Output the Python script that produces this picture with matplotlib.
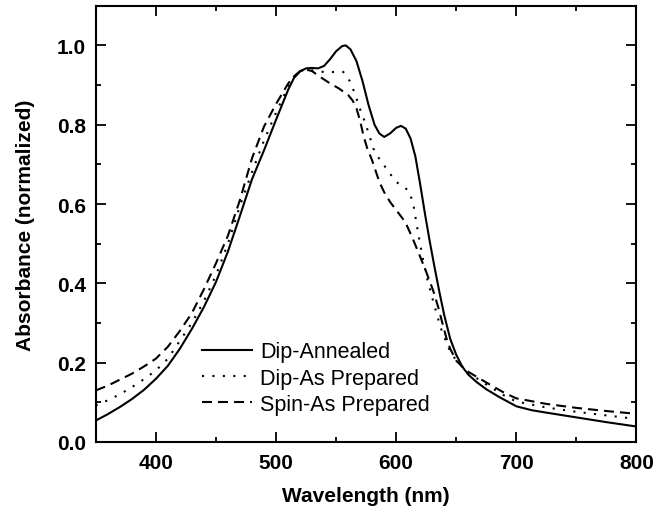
import numpy as np
import matplotlib
matplotlib.use("Agg")
import matplotlib.pyplot as plt
from matplotlib.ticker import MultipleLocator, FormatStrFormatter

plt.rcParams['font.family'] = ['Liberation Sans', 'DejaVu Sans']

# Dip-Annealed (solid)
wl_ann = [350, 360, 370, 380, 390, 400, 410, 420, 430, 440, 450, 460, 470, 480, 490,
          500, 510, 515, 520, 525, 530, 535, 540, 545, 550, 555, 558, 562, 567, 572,
          577, 582, 586, 590, 595, 600, 604, 608, 612, 616, 620, 624, 628, 632, 636,
          640, 645, 650, 655, 660, 667, 675, 686, 700, 713, 725, 750, 775, 800]
abs_ann = [0.054, 0.070, 0.088, 0.108, 0.131, 0.159, 0.192, 0.235, 0.285, 0.340, 0.403,
           0.48, 0.57, 0.662, 0.735, 0.812, 0.887, 0.918, 0.934, 0.942, 0.943, 0.942,
           0.948, 0.965, 0.985, 0.998, 1.0, 0.99, 0.96, 0.91, 0.85, 0.80, 0.778, 0.769,
           0.778, 0.792, 0.797, 0.790, 0.765, 0.72, 0.65, 0.575, 0.505, 0.44, 0.378,
           0.32, 0.26, 0.22, 0.19, 0.17, 0.151, 0.133, 0.113, 0.09, 0.08, 0.074, 0.062,
           0.05, 0.039]

# Dip-As Prepared (dotted)
wl_dip = [350, 360, 370, 380, 390, 400, 410, 420, 430, 440, 450, 460, 470, 480, 490,
          500, 510, 515, 520, 525, 530, 535, 545, 552, 556, 560, 563, 567, 571, 574,
          578, 581, 585, 588, 594, 600, 605, 610, 614, 617, 622, 626, 631, 635, 638,
          644, 650, 660, 675, 690, 700, 725, 750, 775, 800]
abs_dip = [0.092, 0.105, 0.12, 0.138, 0.158, 0.18, 0.21, 0.255, 0.30, 0.355, 0.42, 0.50,
           0.595, 0.68, 0.76, 0.83, 0.895, 0.92, 0.935, 0.94, 0.937, 0.934, 0.932, 0.934,
           0.933, 0.918, 0.90, 0.866, 0.83, 0.807, 0.77, 0.74, 0.718, 0.706, 0.68, 0.656,
           0.645, 0.635, 0.605, 0.55, 0.465, 0.41, 0.353, 0.31, 0.28, 0.235, 0.205,
           0.175, 0.145, 0.117, 0.102, 0.087, 0.076, 0.067, 0.058]

# Spin-As Prepared (dashed)
wl_spin = [350, 360, 370, 380, 390, 400, 410, 420, 430, 440, 450, 460, 470, 480, 490,
           500, 510, 515, 520, 524, 530, 537, 545, 552, 560, 564, 567, 570, 573, 576,
           580, 586, 590, 595, 600, 605, 608, 612, 615, 620, 624, 628, 631, 635, 639,
           642, 645, 650, 655, 660, 675, 690, 700, 725, 750, 775, 800]
abs_spin = [0.13, 0.142, 0.157, 0.172, 0.19, 0.21, 0.24, 0.28, 0.325, 0.385, 0.45, 0.52,
            0.61, 0.715, 0.795, 0.852, 0.903, 0.922, 0.935, 0.94, 0.935, 0.92, 0.904,
            0.892, 0.875, 0.86, 0.841, 0.81, 0.77, 0.74, 0.71, 0.656, 0.63, 0.605, 0.585,
            0.565, 0.552, 0.525, 0.504, 0.467, 0.437, 0.405, 0.38, 0.34, 0.294, 0.26,
            0.235, 0.205, 0.19, 0.177, 0.15, 0.124, 0.11, 0.096, 0.086, 0.078, 0.071]

fig = plt.figure(figsize=(6.68, 5.10), dpi=100)
ax = fig.add_axes([0.1433, 0.1314, 0.8095, 0.8555])

ax.plot(wl_ann, abs_ann, color='black', lw=1.5, ls='-', label='Dip-Annealed')
ax.plot(wl_dip, abs_dip, color='black', lw=1.5, ls=(0, (1, 4)), label='Dip-As Prepared')
ax.plot(wl_spin, abs_spin, color='black', lw=1.5, ls=(0, (4.8, 2.9)), label='Spin-As Prepared')

ax.set_xlim(350, 800)
ax.set_ylim(0, 1.1)
ax.xaxis.set_major_locator(MultipleLocator(100))
ax.xaxis.set_minor_locator(MultipleLocator(50))
ax.yaxis.set_major_locator(MultipleLocator(0.2))
ax.yaxis.set_minor_locator(MultipleLocator(0.1))
ax.yaxis.set_major_formatter(FormatStrFormatter('%.1f'))

for s in ax.spines.values():
    s.set_linewidth(1.5)
ax.tick_params(which='both', direction='in', top=True, right=True, width=1.3)
ax.tick_params(which='major', length=7)
ax.tick_params(which='minor', length=3.5)
ax.tick_params(axis='x', which='major', pad=8)
ax.tick_params(axis='y', which='major', pad=7)
for lab in ax.get_xticklabels() + ax.get_yticklabels():
    lab.set_fontsize(15)
    lab.set_fontweight('bold')

ax.set_xlabel('Wavelength (nm)', fontsize=15, fontweight='bold')
ax.set_ylabel('Absorbance (normalized)', fontsize=15, fontweight='bold')
ax.xaxis.set_label_coords(0.5, -0.1)
ax.yaxis.set_label_coords(-0.112, 0.5)

ax.legend(loc='upper left', bbox_to_anchor=(0.196, 0.231), frameon=False,
          fontsize=15.5, handlelength=2.33, handletextpad=0.37, borderpad=0,
          borderaxespad=0, labelspacing=0.25)

fig.savefig('out.png', dpi=100)
